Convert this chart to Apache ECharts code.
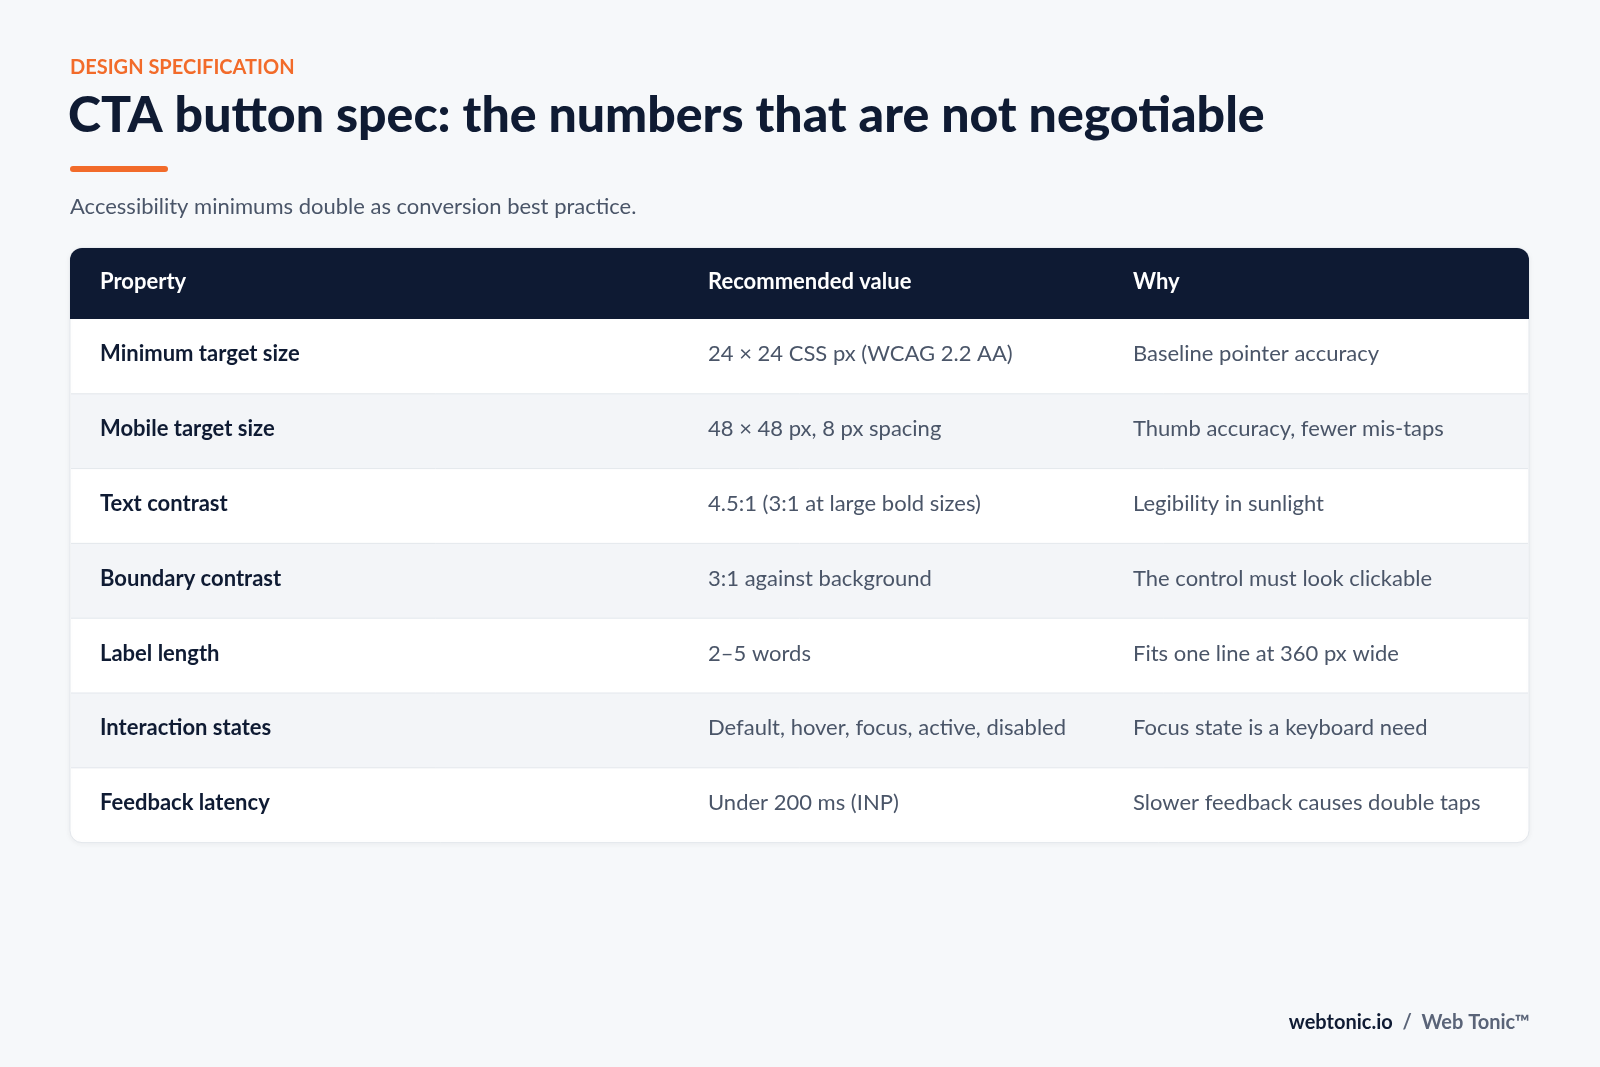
<!DOCTYPE html>
<html><head><meta charset="utf-8">
<script src="https://cdn.jsdelivr.net/npm/echarts@6/dist/echarts.min.js"></script>
<style>html,body{margin:0;padding:0;background:#F6F8FA}#c{width:1600px;height:1067px}</style>
</head><body><div id="c"></div>
<script>
const headers = ["Property", "Recommended value", "Why"];
const properties = ["Minimum target size","Mobile target size","Text contrast","Boundary contrast","Label length","Interaction states","Feedback latency"];
const values = ["24 × 24 CSS px (WCAG 2.2 AA)","48 × 48 px, 8 px spacing","4.5:1 (3:1 at large bold sizes)","3:1 against background","2–5 words","Default, hover, focus, active, disabled","Under 200 ms (INP)"];
const reasons = ["Baseline pointer accuracy","Thumb accuracy, fewer mis-taps","Legibility in sunlight","The control must look clickable","Fits one line at 360 px wide","Focus state is a keyboard need","Slower feedback causes double taps"];

const F = 'Lato, "Noto Sans", sans-serif';
const X0 = 70, X1 = 1529, TOP = 248, HH = 71, RH = 74.8;
const colX = [100, 708, 1133];
const g = [];
g.push({type:'text', left:X0, top:58, style:{text:'DESIGN SPECIFICATION', font:'bold 20px '+F, fill:'#F26B2A', letterSpacing:2.6}});
g.push({type:'text', left:X0-2, top:91, style:{text:'CTA button spec: the numbers that are not negotiable', font:'900 50px '+F, fill:'#0F1B33', letterSpacing:-1.2}});
g.push({type:'rect', shape:{x:X0, y:166, width:98, height:6, r:3}, style:{fill:'#F26B2A'}});
g.push({type:'text', left:X0, top:196, style:{text:'Accessibility minimums double as conversion best practice.', font:'22px '+F, fill:'#4A5568'}});
const tableH = HH + RH*properties.length;
g.push({type:'rect', shape:{x:X0, y:TOP, width:X1-X0, height:tableH, r:12}, style:{fill:'#fff', stroke:'#E3E7EC', lineWidth:1, shadowBlur:6, shadowColor:'rgba(0,0,0,0.05)', shadowOffsetY:1}});
g.push({type:'rect', shape:{x:X0, y:TOP, width:X1-X0, height:HH, r:[12,12,0,0]}, style:{fill:'#0E1A33'}});
headers.forEach((h,i)=>g.push({type:'text', left:colX[i], top:TOP+HH/2-13, style:{text:h, font:'bold 22px '+F, fill:'#fff'}}));
properties.forEach((p,r)=>{
  const y = TOP+HH+RH*r;
  if (r%2===1) g.push({type:'rect', shape:{x:X0+1, y:y, width:X1-X0-2, height:RH}, style:{fill:'#F3F5F8'}});
  if (r>0) g.push({type:'line', shape:{x1:X0+1,y1:y,x2:X1-1,y2:y}, style:{stroke:'#E3E7EC', lineWidth:1}});
  const cy = y+RH/2-13;
  g.push({type:'text', left:colX[0], top:cy, style:{text:p, font:'bold 22px '+F, fill:'#0F1B33'}});
  g.push({type:'text', left:colX[1], top:cy, style:{text:values[r], font:'22px '+F, fill:'#4A5568'}});
  g.push({type:'text', left:colX[2], top:cy, style:{text:reasons[r], font:'22px '+F, fill:'#4A5568'}});
});
g.push({type:'text', right:70, top:1013, style:{rich:{a:{font:'bold 20px '+F, fill:'#0F1B33', letterSpacing:1},b:{font:'bold 20px '+F, fill:'#5A6478', letterSpacing:1}}, text:'{a|webtonic.io}{b|  /  Web Tonic™}'}});
const chart = echarts.init(document.getElementById('c'));
chart.setOption({backgroundColor:'#F6F8FA', graphic:g});
</script></body></html>
